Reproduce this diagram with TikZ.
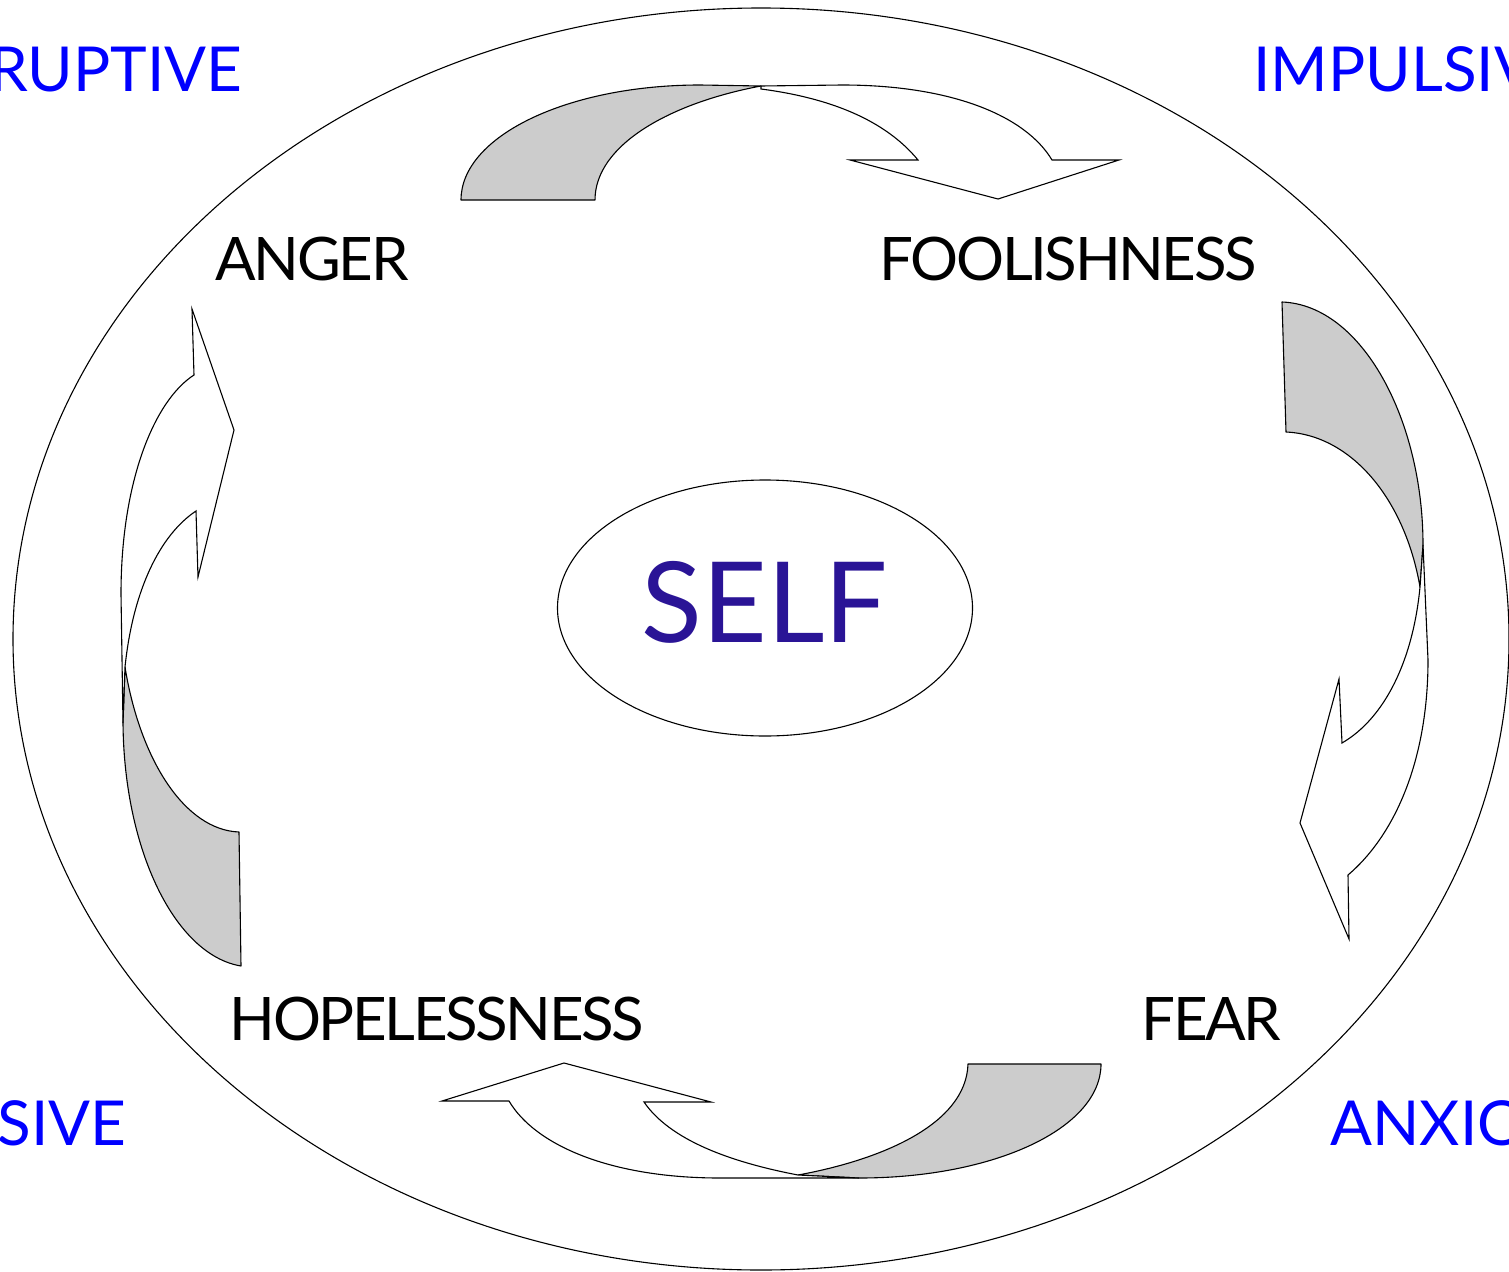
\documentclass[tikz,border=0pt]{standalone}
\usepackage{fontspec}
\setmainfont{Lato}
\usepackage{tikz}
\usetikzlibrary{shapes.geometric}
\usepackage{xcolor}
\definecolor{selfblue}{RGB}{42,20,150}
\definecolor{sideblue}{RGB}{0,0,255}

\begin{document}
\begin{tikzpicture}[
  x=1pt, y=-1pt,
  line width=1.1pt,
  rim/.style={
    ellipse, draw, inner sep=0pt,
    minimum width=1496pt, minimum height=1262pt
  },
  core/.style={
    ellipse, draw, inner sep=0pt,
    minimum width=415pt, minimum height=256pt,
    text height=81pt, text depth=12pt,
    text=selfblue, font=\fontsize{112}{120}\selectfont
  },
  word/.style={inner sep=0pt, font=\fontsize{60}{70}\selectfont\addfontfeature{LetterSpace=-4}},
  side/.style={inner sep=0pt, text=sideblue, font=\fontsize{62}{70}\selectfont},
  back/.style={draw, fill=gray!40, line join=round},
  band/.style={draw, fill=white, line join=miter}
]
\path[use as bounding box, clip] (0,0) rectangle (1509,1271);

\node[rim] (outer) at (761,639) {};
\node[core] (self) at (765,608) {SELF};

\node[word, anchor=base west] (anger) at (215,280) {ANGER};
\node[word, anchor=base west] (fool) at (879,280) {FOOLISHNESS};
\node[word, anchor=base west] (hope) at (229,1040) {HOPELESSNESS};
\node[word, anchor=base west] (fear) at (1141,1040) {FEAR};

\node[side, anchor=base east] (erupt) at (243,92) {RUPTIVE};
\node[side, anchor=base west] (impul) at (1253,92) {IMPULSIV};
\node[side, anchor=base east] (depr) at (127,1145) {SSIVE};
\node[side, anchor=base west] (anxi) at (1330,1145) {ANXIO};

% anger -> foolishness
\draw[back] (461,200) .. controls (461,136) and (568,85) .. (700,85)
  -- (761,86) .. controls (670,103) and (595,145) .. (595,200) -- cycle;
\draw[band] (761,86) -- (842,85) .. controls (950,85) and (1025,115) .. (1052,160)
  -- (1119,160) -- (998,199) -- (850,160) -- (918,160)
  .. controls (885,120) and (830,98) .. (761,89) -- cycle;

% foolishness -> fear
\draw[back] (1282,302) .. controls (1362,305) and (1423,420) .. (1423,545)
  -- (1420,587) .. controls (1405,500) and (1352,435) .. (1286,432) -- cycle;
\draw[band] (1423,545) -- (1428,660) .. controls (1428,760) and (1395,835) .. (1348,875)
  -- (1349,939) -- (1300,823) -- (1339,679) -- (1342,743)
  .. controls (1385,718) and (1413,660) .. (1420,587) -- cycle;

% fear -> hopelessness
\draw[back] (968,1064) -- (1101,1064) .. controls (1101,1128) and (995,1178) .. (859,1178)
  -- (798,1175) .. controls (880,1160) and (966,1125) .. (968,1064) -- cycle;
\draw[band] (859,1178) -- (720,1178) .. controls (610,1178) and (535,1145) .. (509,1101)
  -- (442,1101) -- (564,1063) -- (711,1102) -- (644,1102)
  .. controls (670,1140) and (730,1162) .. (798,1175) -- cycle;

% hopelessness -> anger
\draw[back] (239,832) -- (241,966) .. controls (175,955) and (124,850) .. (123,723)
  -- (125,667) .. controls (140,760) and (185,830) .. (239,832) -- cycle;
\draw[band] (123,723) -- (121,594) .. controls (121,480) and (155,400) .. (194,375)
  -- (192,309) -- (234,430) -- (198,577) -- (196,511)
  .. controls (160,535) and (133,590) .. (125,667) -- cycle;

\end{tikzpicture}
\end{document}
